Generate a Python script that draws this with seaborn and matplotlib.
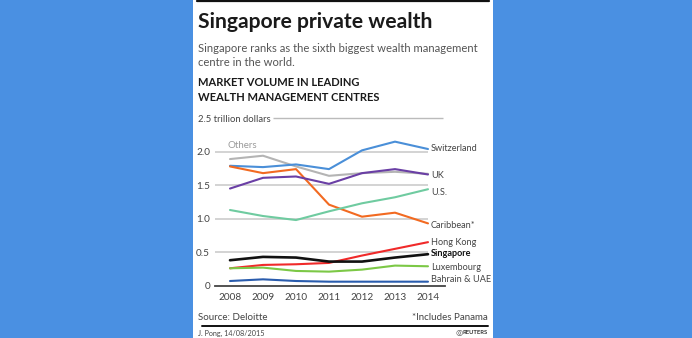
import matplotlib
matplotlib.use("Agg")
import matplotlib.pyplot as plt
import seaborn as sns
import pandas as pd
from matplotlib.patches import Rectangle
from matplotlib.lines import Line2D

years = [2008, 2009, 2010, 2011, 2012, 2013, 2014]
others = [1.89, 1.94, 1.78, 1.64, 1.68, 1.70, 1.67]
switzerland = [1.79, 1.77, 1.81, 1.74, 2.02, 2.15, 2.04]
caribbean = [1.78, 1.68, 1.74, 1.21, 1.03, 1.09, 0.93]
uk = [1.45, 1.61, 1.63, 1.52, 1.68, 1.74, 1.66]
us = [1.13, 1.04, 0.98, 1.11, 1.23, 1.32, 1.44]
hong_kong = [0.26, 0.31, 0.32, 0.34, 0.45, 0.55, 0.65]
luxembourg = [0.26, 0.27, 0.22, 0.21, 0.24, 0.30, 0.29]
bahrain_uae = [0.07, 0.095, 0.07, 0.06, 0.06, 0.06, 0.06]
singapore = [0.38, 0.43, 0.42, 0.36, 0.36, 0.42, 0.47]

series_names = ["Others", "Switzerland", "Caribbean*", "UK", "U.S.",
                "Hong Kong", "Luxembourg", "Bahrain & UAE", "Singapore"]
series_values = [others, switzerland, caribbean, uk, us,
                 hong_kong, luxembourg, bahrain_uae, singapore]
ytick_vals = [0, 0.5, 1.0, 1.5, 2.0]
ytick_labels = ["0", "0.5", "1.0", "1.5", "2.0"]

colors = {
    "Others": "#b4b4b4",
    "Switzerland": "#4a8fd8",
    "Caribbean*": "#f26a21",
    "UK": "#6a3fa5",
    "U.S.": "#6fcba0",
    "Hong Kong": "#f02a2a",
    "Luxembourg": "#7cc846",
    "Bahrain & UAE": "#2a5cad",
    "Singapore": "#111111",
}

rows = []
for n, vals in zip(series_names, series_values):
    for y, v in zip(years, vals):
        rows.append({"year": y, "value": v, "series": n})
df = pd.DataFrame(rows)

sns.set_style("white")
plt.rcParams["font.family"] = ["Lato", "DejaVu Sans"]

W, H = 692, 338
fig = plt.figure(figsize=(W / 100, H / 100), dpi=100)
fig.patch.set_facecolor("#4a90e2")
fig.patches.append(Rectangle((193 / W, 0), 300 / W, 1, transform=fig.transFigure,
                             facecolor="white", edgecolor="none", zorder=-5))

def fx(px):
    return px / W

def fy(py):
    return 1 - py / H

# axes: x pixels 215..445, y pixels 112..290
ax = fig.add_axes([fx(215), fy(290), (445 - 215) / W, (290 - 112) / H])
ax.set_zorder(1)
ax.set_facecolor("none")
x0 = 2008 - 15 / 33
x1 = 2008 + 215 / 33
ax.set_xlim(x0, x1)
ymin = -(290 - 285.7) / 67
ymax = (285.7 - 112) / 67
ax.set_ylim(ymin, ymax)

# gridlines
ax.hlines([0.5, 1.0, 1.5, 2.0], x0, 2014.0, color="#cccccc", lw=1.2, zorder=1)
ax.hlines([2.5], 2008 + 43 / 33, 2008 + 213 / 33, color="#bbbbbb", lw=1.0, zorder=1)

for n in series_names:
    sub = df[df["series"] == n]
    lw = 1.9 if n == "Singapore" else 1.5
    sns.lineplot(data=sub, x="year", y="value", color=colors[n], lw=lw, ax=ax,
                 legend=False, zorder=5 if n == "Singapore" else 3)

for s in ["top", "right", "left"]:
    ax.spines[s].set_visible(False)
ax.spines["bottom"].set_position(("data", 0))
ax.spines["bottom"].set_color("#444444")
ax.spines["bottom"].set_linewidth(1.3)
ax.set_xticks(years)
ax.set_xticklabels([str(y) for y in years])
ax.set_yticks(ytick_vals)
ax.set_yticklabels(ytick_labels)
ax.tick_params(axis="x", length=3, width=0.8, color="#888888", pad=2,
               labelsize=7.2, labelcolor="#444444")
ax.tick_params(axis="y", length=0, pad=3.5, labelsize=7.2, labelcolor="#444444")
ax.set_xlabel("")
ax.set_ylabel("")
ax.grid(False)

# series labels on the right
label_pos = {
    "Switzerland": 148.3, "UK": 175, "U.S.": 192.3, "Caribbean*": 225.7,
    "Hong Kong": 242.3, "Singapore": 254, "Luxembourg": 267.3, "Bahrain & UAE": 280,
}
for n, py in label_pos.items():
    fig.text(fx(431), fy(py), n, fontsize=6.6, va="center", ha="left",
             color="#111111" if n == "Singapore" else "#444444",
             fontweight="bold" if n == "Singapore" else "normal")
fig.text(fx(228), fy(146), "Others", fontsize=7.0, va="center", ha="left", color="#9a9a9a")

# header texts
fig.add_artist(Line2D([fx(197), fx(489)], [fy(1), fy(1)], color="#111111", lw=1.6))
fig.text(fx(198), fy(22), "Singapore private wealth", fontsize=15.2, fontweight="bold",
         va="center", ha="left", color="#1a1a1a")
fig.text(fx(198), fy(48), "Singapore ranks as the sixth biggest wealth management",
         fontsize=8.1, va="center", ha="left", color="#555555")
fig.text(fx(198), fy(62), "centre in the world.", fontsize=8.1, va="center", ha="left",
         color="#555555")
fig.text(fx(198), fy(83), "MARKET VOLUME IN LEADING", fontsize=8.0, fontweight="bold",
         va="center", ha="left", color="#1a1a1a")
fig.text(fx(198), fy(98), "WEALTH MANAGEMENT CENTRES", fontsize=8.0, fontweight="bold",
         va="center", ha="left", color="#1a1a1a")
fig.text(fx(198), fy(119), "2.5 trillion dollars", fontsize=6.8, va="center", ha="left",
         color="#444444")

# footer
fig.text(fx(198), fy(317), "Source: Deloitte", fontsize=7.0, va="center", ha="left",
         color="#444444")
fig.text(fx(488), fy(317), "*Includes Panama", fontsize=7.0, va="center", ha="right",
         color="#444444")
fig.add_artist(Line2D([fx(202), fx(488)], [fy(326), fy(326)], color="#111111", lw=1.4))
fig.text(fx(198), fy(333), "J. Pong, 14/08/2015", fontsize=5.2, va="center", ha="left",
         color="#444444")
fig.text(fx(488), fy(333), "REUTERS", fontsize=4.2, fontweight="bold", va="center",
         ha="right", color="#333333")
fig.text(fx(459), fy(333), "\u25CE", fontsize=6, va="center", ha="center", color="#555555",
         family=["DejaVu Sans"])

fig.savefig("out.png", dpi=100, facecolor=fig.get_facecolor())
